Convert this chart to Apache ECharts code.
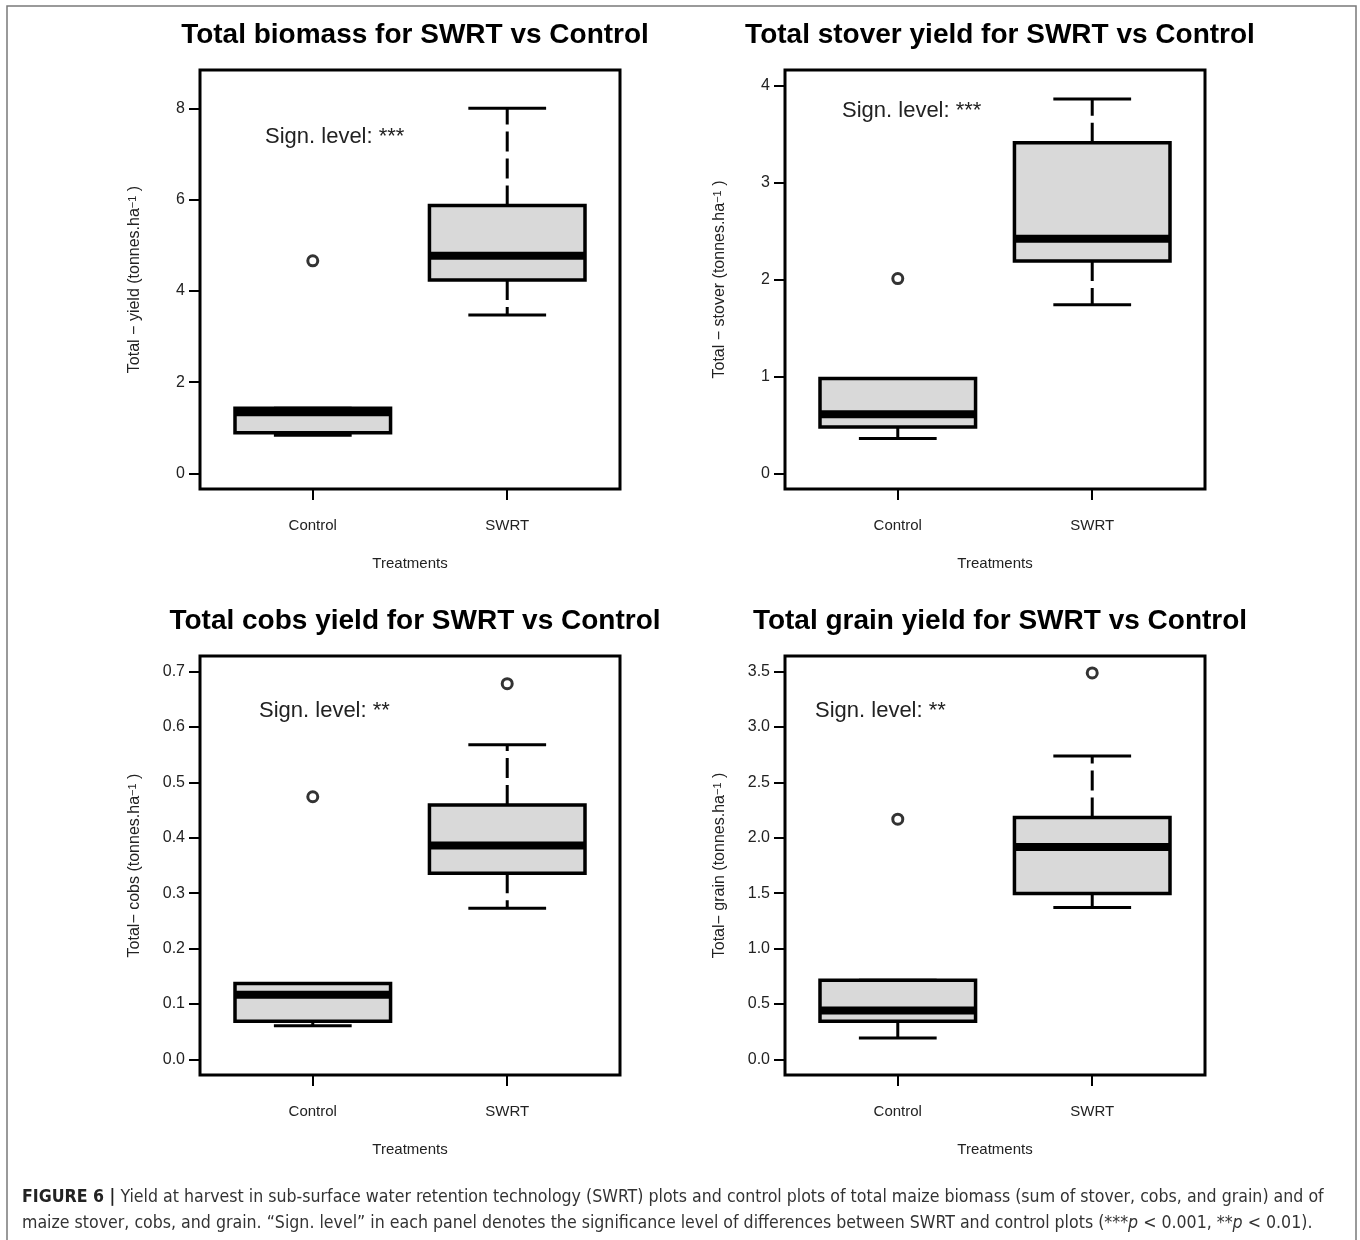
<!DOCTYPE html>
<html>
<head>
<meta charset="utf-8">
<title>Yield at harvest - SWRT vs Control</title>
<script src="https://cdn.jsdelivr.net/npm/echarts@6/dist/echarts.min.js"></script>
<style>
    html, body { margin: 0; padding: 0; background: #fff; }
    #main { width: 1360px; height: 1240px; }
</style>
</head>
<body>
<div id="main"></div>
<script>
// groups on the x axis
var groups = ['Control', 'SWRT'];

// box stats per group: [min, Q1, median, Q3, max]
var biomassStats = [[0.84, 0.89, 1.34, 1.43, 1.43], [3.47, 4.24, 4.77, 5.87, 8.00]];
var stoverStats  = [[0.36, 0.48, 0.61, 0.98, 0.98], [1.74, 2.19, 2.42, 3.41, 3.86]];
var cobsStats    = [[0.061, 0.069, 0.117, 0.137, 0.137], [0.273, 0.336, 0.386, 0.459, 0.568]];
var grainStats   = [[0.193, 0.346, 0.443, 0.714, 0.714], [1.370, 1.497, 1.918, 2.183, 2.737]];

// outliers: [group position, value]
var biomassOut = [[1, 4.66]];
var stoverOut  = [[1, 2.01]];
var cobsOut    = [[1, 0.474], [2, 0.678]];
var grainOut   = [[1, 2.168], [2, 3.487]];

// y tick values
var biomassTicks = [0, 2, 4, 6, 8];
var stoverTicks  = [0, 1, 2, 3, 4];
var cobsTicks    = [0, 0.1, 0.2, 0.3, 0.4, 0.5, 0.6, 0.7];
var grainTicks   = [0, 0.5, 1.0, 1.5, 2.0, 2.5, 3.0, 3.5];

var panels = [
    {title: 'Total biomass for SWRT vs Control', ylab: 'Total \u2212 yield (tonnes.ha{sup|\u22121} )', stats: biomassStats, out: biomassOut,
        ticks: biomassTicks, ylim: [0, 8.5], digits: 0, sign: 'Sign. level: ***', left: 200, top: 70, signX: 265, signY: 137},
    {title: 'Total stover yield for SWRT vs Control', ylab: 'Total \u2212 stover (tonnes.ha{sup|\u22121} )', stats: stoverStats, out: stoverOut,
        ticks: stoverTicks, ylim: [0, 4], digits: 0, sign: 'Sign. level: ***', left: 785, top: 70, signX: 842, signY: 111},
    {title: 'Total cobs yield for SWRT vs Control', ylab: 'Total\u2212 cobs (tonnes.ha{sup|\u22121} )', stats: cobsStats, out: cobsOut,
        ticks: cobsTicks, ylim: [0, 0.7], digits: 1, sign: 'Sign. level: **', left: 200, top: 656, signX: 259, signY: 711},
    {title: 'Total grain yield for SWRT vs Control', ylab: 'Total\u2212 grain (tonnes.ha{sup|\u22121} )', stats: grainStats, out: grainOut,
        ticks: grainTicks, ylim: [0, 3.5], digits: 1, sign: 'Sign. level: **', left: 785, top: 656, signX: 815, signY: 711}
];

var plotW = 420, plotH = 419;
var textColor = '#222';
var font = 'Liberation Sans, Arial, sans-serif';

// R style box: dashed whiskers, solid staples, thick median
function renderBox(params, api) {
    var x = api.value(0);
    var vMin = api.value(1), q1 = api.value(2), med = api.value(3), q3 = api.value(4), vMax = api.value(5);
    var tl = api.coord([x - 0.4, q3]);
    var br = api.coord([x + 0.4, q1]);
    var cx = api.coord([x, med])[0];
    var pMed = api.coord([x, med])[1];
    var pMin = api.coord([x, vMin])[1];
    var pMax = api.coord([x, vMax])[1];
    var capL = api.coord([x - 0.2, vMin])[0];
    var capR = api.coord([x + 0.2, vMin])[0];
    var dash = {stroke: '#000', lineWidth: 3, lineDash: [20, 7]};
    var solid = {stroke: '#000', lineWidth: 3};
    return {
        type: 'group',
        children: [
            {type: 'line', shape: {x1: cx, y1: tl[1], x2: cx, y2: pMax}, style: dash},
            {type: 'line', shape: {x1: cx, y1: br[1], x2: cx, y2: pMin}, style: dash},
            {type: 'line', shape: {x1: capL, y1: pMax, x2: capR, y2: pMax}, style: solid},
            {type: 'line', shape: {x1: capL, y1: pMin, x2: capR, y2: pMin}, style: solid},
            {type: 'rect', shape: {x: tl[0], y: tl[1], width: br[0] - tl[0], height: br[1] - tl[1]},
                style: {fill: '#d9d9d9', stroke: '#000', lineWidth: 3.5}},
            {type: 'line', shape: {x1: tl[0], y1: pMed, x2: br[0], y2: pMed},
                style: {stroke: '#000', lineWidth: 8}}
        ]
    };
}

var option = {
    animation: false,
    backgroundColor: '#fff',
    title: [],
    grid: [],
    xAxis: [],
    yAxis: [],
    series: [],
    graphic: []
};

panels.forEach(function (p, i) {
    var span = p.ylim[1] - p.ylim[0];
    option.title.push({
        text: p.title,
        left: p.left + plotW / 2,
        top: p.top - 54,
        textAlign: 'center',
        textStyle: {fontSize: 28, fontWeight: 'bold', color: '#000', fontFamily: font}
    });
    option.grid.push({
        left: p.left, top: p.top, width: plotW, height: plotH,
        show: true, borderColor: '#000', borderWidth: 3, backgroundColor: 'transparent',
        outerBoundsMode: 'none'
    });
    option.xAxis.push({
        gridIndex: i, type: 'value', min: 0.42, max: 2.58, position: 'bottom',
        axisLine: {show: false, onZero: false}, splitLine: {show: false},
        axisTick: {show: true, length: 11, customValues: [1, 2], lineStyle: {color: '#000', width: 2}},
        axisLabel: {customValues: [1, 2], margin: 29, fontSize: 15, color: textColor, fontFamily: font,
            formatter: function (v) { return groups[Math.round(v) - 1]; }},
        name: 'Treatments', nameLocation: 'middle', nameGap: 67,
        nameTextStyle: {fontSize: 15, color: textColor, fontFamily: font}
    });
    option.yAxis.push({
        gridIndex: i, type: 'value', position: 'left',
        min: p.ylim[0] - 0.04 * span, max: p.ylim[1] + 0.04 * span,
        axisLine: {show: false, onZero: false}, splitLine: {show: false},
        axisTick: {show: true, length: 11, customValues: p.ticks, lineStyle: {color: '#000', width: 2}},
        axisLabel: {customValues: p.ticks, margin: 15, fontSize: 16, color: textColor, fontFamily: font,
            formatter: function (v) { return v.toFixed(p.digits); }},
        name: p.ylab, nameLocation: 'middle', nameRotate: 90, nameGap: 57,
        nameTextStyle: {fontSize: 16, color: textColor, fontFamily: font,
            rich: {sup: {fontSize: 11, verticalAlign: 'top', lineHeight: 10, color: textColor}}}
    });
    option.series.push({
        type: 'custom', xAxisIndex: i, yAxisIndex: i,
        renderItem: renderBox,
        encode: {x: 0, y: [1, 2, 3, 4, 5]},
        data: p.stats.map(function (s, k) { return [k + 1].concat(s); }),
        z: 2
    });
    option.series.push({
        type: 'scatter', xAxisIndex: i, yAxisIndex: i,
        symbol: 'circle', symbolSize: 10,
        itemStyle: {color: '#fff', borderColor: '#000', borderWidth: 3},
        data: p.out, z: 3
    });
    option.graphic.push({
        type: 'text', x: p.signX, y: p.signY,
        style: {text: p.sign, fontSize: 22, fill: textColor, verticalAlign: 'middle', fontFamily: font}
    });
});

// figure frame and caption
option.graphic.push({
    type: 'rect', shape: {x: 7, y: 6, width: 1349, height: 1260},
    style: {fill: 'none', stroke: '#7a7a7a', lineWidth: 1.5}, silent: true
});
var capFont = '"Liberation Sans Narrow", "DejaVu Sans Condensed", Arial, sans-serif';
var capSize = 17.6;
var capRich = {
    b: {fontWeight: 'bold', fontSize: capSize, fill: '#222', fontFamily: capFont},
    i: {fontStyle: 'italic', fontSize: capSize, fill: '#333', fontFamily: capFont}
};
option.graphic.push({
    type: 'text', x: 22, y: 1197,
    style: {text: '{b|FIGURE 6 |} Yield at harvest in sub-surface water retention technology (SWRT) plots and control plots of total maize biomass (sum of stover, cobs, and grain) and of',
        fontSize: capSize, fill: '#333', fontFamily: capFont, verticalAlign: 'middle', rich: capRich}
});
option.graphic.push({
    type: 'text', x: 22, y: 1223,
    style: {text: 'maize stover, cobs, and grain. \u201cSign. level\u201d in each panel denotes the significance level of differences between SWRT and control plots (***{i|p} < 0.001, **{i|p} < 0.01).',
        fontSize: capSize, fill: '#333', fontFamily: capFont, verticalAlign: 'middle', rich: capRich}
});

var myChart = echarts.init(document.getElementById('main'));
myChart.setOption(option);
</script>
</body>
</html>
